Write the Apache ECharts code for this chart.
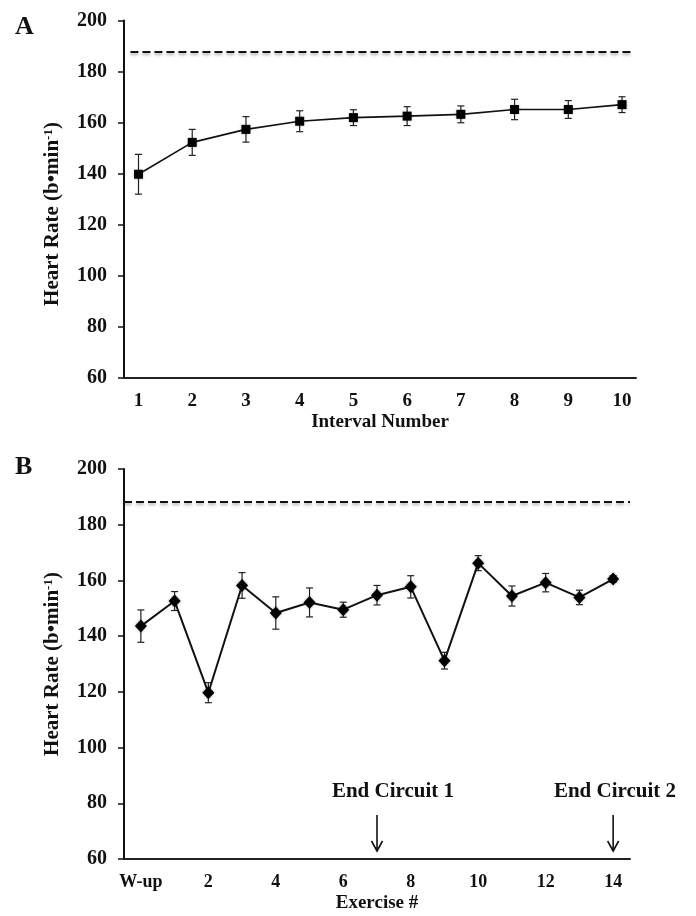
<!DOCTYPE html>
<html>
<head>
<meta charset="utf-8">
<script src="https://cdn.jsdelivr.net/npm/echarts@6/dist/echarts.min.js"></script>
<style>
html,body{margin:0;padding:0;background:#fff;}
#c{width:696px;height:916px;}
</style>
</head>
<body>
<div id="c"></div>
<script>
// ---- Data ----
const intervalNumbers = [1, 2, 3, 4, 5, 6, 7, 8, 9, 10];
const intervalHR = [139.7, 152.2, 157.3, 160.5, 161.9, 162.5, 163.2, 165.1, 165.1, 167.0];
const intervalErr = [7.8, 5.1, 5.0, 4.1, 3.1, 3.7, 3.3, 4.0, 3.5, 3.1];
const hrMaxA = 187.6;

const exerciseLabels = ['W-up', '1', '2', '3', '4', '5', '6', '7', '8', '9', '10', '11', '12', '13', '14'];
const exerciseHR = [143.6, 152.6, 119.7, 158.2, 148.3, 152.1, 149.5, 154.7, 157.7, 131.2, 166.2, 154.4, 159.2, 153.9, 160.5];
const exerciseErr = [5.8, 3.4, 3.6, 4.6, 5.8, 5.2, 2.7, 3.5, 4.0, 3.0, 2.7, 3.6, 3.3, 2.6, 1.2];
const hrMaxB = 188.2;

const yTicks = [60, 80, 100, 120, 140, 160, 180, 200];
const circuitEndIdx = [7, 14];
const circuitLabels = ['End Circuit 1', 'End Circuit 2'];

// ---- Chart ----
const FONT = '"Liberation Serif", "Times New Roman", serif';
const chart = echarts.init(document.getElementById('c'), null, {renderer: 'canvas'});

const yName = '{a|Heart Rate (b•min}{s|-1}{a|)}';
function yNameStyle(shift) {
  return {
    padding: [0, shift, 0, 0],
    rich: {
      a: {fontFamily: FONT, fontWeight: 'bold', fontSize: 21, color: '#111'},
      s: {fontFamily: FONT, fontWeight: 'bold', fontSize: 13, color: '#111', verticalAlign: 'top'}
    }
  };
}

function yAxisCfg(gridIndex, shift) {
  return {
    type: 'value', gridIndex: gridIndex,
    min: yTicks[0], max: yTicks[yTicks.length - 1], interval: 20,
    name: yName, nameLocation: 'middle', nameGap: 61, nameTextStyle: yNameStyle(shift),
    axisLine: {show: true, lineStyle: {color: '#111', width: 2}},
    axisTick: {show: true, inside: false, length: 6, lineStyle: {color: '#111', width: 1.5}},
    axisLabel: {margin: 17, fontFamily: FONT, fontWeight: 'bold', fontSize: 20, color: '#111'},
    splitLine: {show: false}
  };
}

function errorBarSeries(xAxisIndex, yAxisIndex, data) {
  return {
    type: 'custom', xAxisIndex: xAxisIndex, yAxisIndex: yAxisIndex, z: 3,
    data: data,
    renderItem: function (params, api) {
      const x = api.value(0), y = api.value(1), e = api.value(2);
      const top = api.coord([x, y + e]);
      const bot = api.coord([x, y - e]);
      const hw = 3.5;
      const st = {stroke: '#222', lineWidth: 1.2};
      return {
        type: 'group',
        children: [
          {type: 'line', shape: {x1: top[0], y1: top[1], x2: bot[0], y2: bot[1]}, style: st},
          {type: 'line', shape: {x1: top[0] - hw, y1: top[1], x2: top[0] + hw, y2: top[1]}, style: st},
          {type: 'line', shape: {x1: bot[0] - hw, y1: bot[1], x2: bot[0] + hw, y2: bot[1]}, style: st}
        ]
      };
    }
  };
}

const dashStyle = {
  color: '#111', width: 2, type: [8, 4],
  shadowColor: 'rgba(0,0,0,0.35)', shadowBlur: 3, shadowOffsetY: 2
};

const option = {
  animation: false,
  backgroundColor: '#fff',
  graphic: [
    {type: 'text', left: 15, top: 14, style: {text: 'A', fontFamily: FONT, fontWeight: 'bold', fontSize: 26, fill: '#111'}},
    {type: 'text', left: 15, top: 454, style: {text: 'B', fontFamily: FONT, fontWeight: 'bold', fontSize: 26, fill: '#111'}}
  ],
  grid: [
    {left: 124, top: 20.5, width: 512, height: 357},
    {left: 124, top: 469, width: 506, height: 390}
  ],
  xAxis: [
    {
      type: 'value', gridIndex: 0, min: 0.73, max: 10.26,
      name: 'Interval Number', nameLocation: 'middle', nameGap: 35,
      nameTextStyle: {fontFamily: FONT, fontWeight: 'bold', fontSize: 19, color: '#111'},
      axisLine: {show: true, onZero: false, lineStyle: {color: '#222', width: 2}},
      axisTick: {show: false},
      axisLabel: {customValues: intervalNumbers, margin: 14, fontFamily: FONT, fontWeight: 'bold', fontSize: 19, color: '#111'},
      splitLine: {show: false}
    },
    {
      type: 'category', gridIndex: 1, data: exerciseLabels, boundaryGap: true,
      name: 'Exercise #', nameLocation: 'middle', nameGap: 35,
      nameTextStyle: {fontFamily: FONT, fontWeight: 'bold', fontSize: 19, color: '#111'},
      axisLine: {show: true, onZero: false, lineStyle: {color: '#222', width: 2}},
      axisTick: {show: false},
      axisLabel: {interval: 1, margin: 14, fontFamily: FONT, fontWeight: 'bold', fontSize: 18, color: '#111'},
      splitLine: {show: false}
    }
  ],
  yAxis: [yAxisCfg(0, 30), yAxisCfg(1, 0)],
  series: [
    errorBarSeries(0, 0, intervalHR.map((v, i) => [intervalNumbers[i], v, intervalErr[i]])),
    {
      type: 'line', xAxisIndex: 0, yAxisIndex: 0, z: 4,
      data: intervalHR.map((v, i) => [intervalNumbers[i], v]),
      symbol: 'rect', symbolSize: 9,
      lineStyle: {color: '#111', width: 1.6},
      itemStyle: {color: '#000', shadowColor: 'rgba(0,0,0,0.35)', shadowBlur: 3},
      markLine: {
        silent: true, symbol: ['none', 'none'], label: {show: false},
        lineStyle: dashStyle,
        data: [[{coord: [0.85, hrMaxA]}, {coord: [10.16, hrMaxA]}]]
      }
    },
    errorBarSeries(1, 1, exerciseHR.map((v, i) => [i, v, exerciseErr[i]])),
    {
      type: 'line', xAxisIndex: 1, yAxisIndex: 1, z: 4,
      data: exerciseHR,
      symbol: 'diamond', symbolSize: [12, 13],
      lineStyle: {color: '#111', width: 2},
      itemStyle: {color: '#000', shadowColor: 'rgba(0,0,0,0.35)', shadowBlur: 3},
      markLine: {
        silent: true, symbol: ['none', 'none'], label: {show: false},
        lineStyle: dashStyle,
        data: [{yAxis: hrMaxB}]
      }
    },
    {
      type: 'custom', xAxisIndex: 1, yAxisIndex: 1, z: 5, silent: true,
      data: circuitEndIdx.map((x, i) => [x, yTicks[0], i]),
      renderItem: function (params, api) {
        const p = api.coord([api.value(0), api.value(1)]);
        const i = api.value(2);
        const px = p[0], base = p[1];
        const tipY = base - 8, startY = base - 44;
        const st = {stroke: '#111', lineWidth: 1.6};
        const tx = Math.min(px + 16, 615);
        return {
          type: 'group',
          children: [
            {type: 'line', shape: {x1: px, y1: startY, x2: px, y2: tipY}, style: st},
            {type: 'polyline', shape: {points: [[px - 5.5, tipY - 10], [px, tipY], [px + 5.5, tipY - 10]]}, style: {stroke: '#111', lineWidth: 1.6, fill: null}},
            {type: 'text', x: tx, y: base - 67, style: {text: circuitLabels[i], fontFamily: FONT, fontWeight: 'bold', fontSize: 21, fill: '#111', align: 'center', verticalAlign: 'middle'}}
          ]
        };
      }
    }
  ]
};
chart.setOption(option);
</script>
</body>
</html>
